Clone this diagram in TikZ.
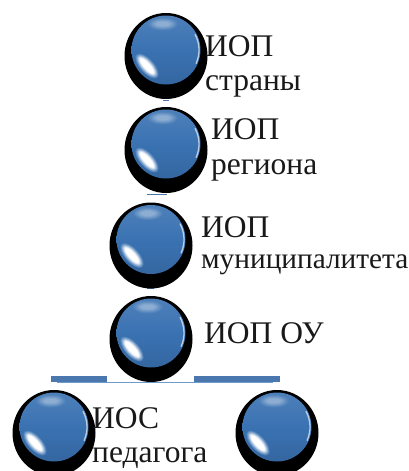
\documentclass[tikz,border=0pt]{standalone}
\usepackage{fontspec}
\setmainfont{Liberation Serif}
\usetikzlibrary{calc,shapes.geometric}
\definecolor{ballblue}{HTML}{3A72B2}
\definecolor{barblue}{HTML}{4A78AE}
\definecolor{thinblue}{HTML}{6F9ACB}
\tikzset{
  x=1pt,y=-1pt,
  ballshadow/.style={ellipse,fill=black,draw=none,inner sep=0pt,minimum width=83pt,minimum height=86pt},
  ballnode/.style={circle,inner sep=0pt,minimum size=69pt,draw=none,top color=ballblue!90!white,bottom color=ballblue!90!black,middle color=ballblue},
  label1/.style={anchor=base west,inner sep=0pt,font=\fontsize{31.5}{32}\selectfont,text=black!90},
  label3/.style={anchor=base west,inner sep=0pt,font=\fontsize{29.3}{30}\selectfont,text=black!90},
  bar/.style={fill=barblue,draw=none},
  stub/.style={draw=barblue,line width=1.6pt},
  thin/.style={draw=thinblue,line width=1pt},
}
\newcommand{\ballat}[3]{%
  \node[ballshadow] at (#2,#3+6) {};
  \node[ballnode] (#1) at (#2,#3) {};
  % top sheen
  \foreach \k/\m in {0/88,1/80,2/72,3/64,4/58}{
    \fill[ballblue!\m!white] ($(#1)+(-3,-26)$) ellipse ({15-2*\k} and {6.5-\k});
  }
  % lower-left glint
  \begin{scope}[shift={($(#1)+(-19,16)$)},rotate=-48]
    \foreach \k/\m in {0/88,1/74,2/58,3/40,4/22,5/8,6/0}{
      \fill[ballblue!\m!white] (0,0) ellipse ({15.5-\k} and {7-0.7*\k});
    }
  \end{scope}
  % right rim
  \draw[ballblue!35!white,line width=1.3pt,line cap=round] ($(#1)+(-28:33)$) arc[start angle=-28,end angle=24,radius=33];
}
\begin{document}
\begin{tikzpicture}
\useasboundingbox (0,0) rectangle (409,471);
\fill[white] (0,0) rectangle (409,471);
% small connector pieces
\coordinate (s1) at (166,100.5);
\coordinate (s2a) at (147,194.5);
\coordinate (s2b) at (167,194.5);
\coordinate (s3a) at (147,288.5);
\coordinate (s3b) at (154,288.5);
\draw[stub] ($(s1)+(-3,0)$) -- ($(s1)+(3,0)$);
\draw[stub] (s2a) -- (s2b);
\draw[stub] (s3a) -- (s3b);
\coordinate (treeL) at (57,382);
\coordinate (treeR) at (273,382);
\draw[thin] (treeL) -- (treeR);
\fill[bar] (51,376) rectangle (107,382);
\fill[bar] (194,376) rectangle (280,382);
\ballat{b1}{166}{50}
\ballat{b2}{166}{144}
\ballat{b3}{151}{239.5}
\ballat{b4}{151}{333}
\ballat{b5}{54}{427}
\ballat{b6}{277}{427}
\node[label1] (t1a) at (205,56) {ИОП};
\node[label1] (t1b) at (205,90) {страны};
\node[label1] (t2a) at (211,139) {ИОП};
\node[label1] (t2b) at (211,174) {региона};
\node[label1] (t3a) at (201,237) {ИОП};
\node[label3] (t3b) at (201,268) {муниципалитета};
\node[label1] (t4) at (204,343) {ИОП ОУ};
\node[label1] (t5a) at (92,428) {ИОС};
\node[label1] (t5b) at (92,462) {педагога};
\end{tikzpicture}
\end{document}
